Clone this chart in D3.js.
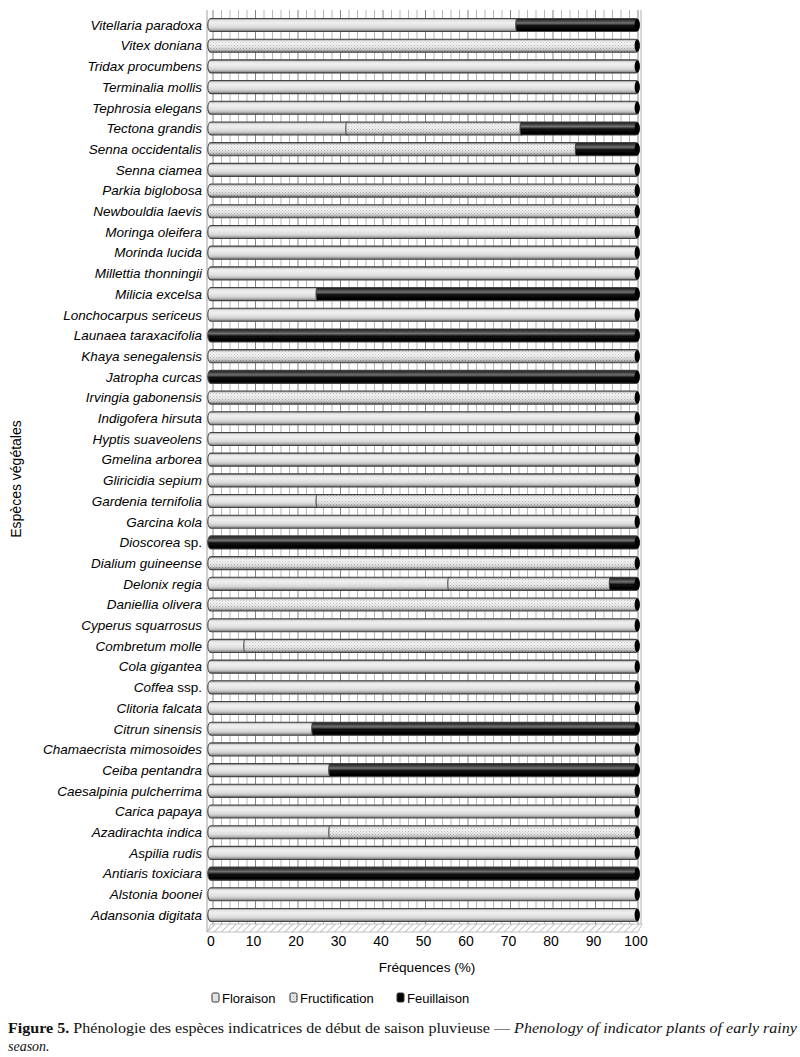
<!DOCTYPE html>
<html>
<head>
<meta charset="utf-8">
<script src="https://cdn.jsdelivr.net/npm/d3@7"></script>
<style>
  body { margin: 0; background: #fff; }
  svg { display: block; }
</style>
</head>
<body>
<div id="chart"></div>
<script>
// Species from top to bottom, as they appear on the chart
const species = [
  "Vitellaria paradoxa", "Vitex doniana", "Tridax procumbens", "Terminalia mollis",
  "Tephrosia elegans", "Tectona grandis", "Senna occidentalis", "Senna ciamea",
  "Parkia biglobosa", "Newbouldia laevis", "Moringa oleifera", "Morinda lucida",
  "Millettia thonningii", "Milicia excelsa", "Lonchocarpus sericeus", "Launaea taraxacifolia",
  "Khaya senegalensis", "Jatropha curcas", "Irvingia gabonensis", "Indigofera hirsuta",
  "Hyptis suaveolens", "Gmelina arborea", "Gliricidia sepium", "Gardenia ternifolia",
  "Garcina kola", "Dioscorea sp.", "Dialium guineense", "Delonix regia",
  "Daniellia olivera", "Cyperus squarrosus", "Combretum molle", "Cola gigantea",
  "Coffea ssp.", "Clitoria falcata", "Citrun sinensis", "Chamaecrista mimosoides",
  "Ceiba pentandra", "Caesalpinia pulcherrima", "Carica papaya", "Azadirachta indica",
  "Aspilia rudis", "Antiaris toxiciara", "Alstonia boonei", "Adansonia digitata"
];

const floraison = [
  72, 0, 100, 100, 100, 32, 0, 100, 0, 0, 100, 100, 100, 25, 100, 0,
  0, 0, 0, 100, 100, 100, 100, 25, 100, 0, 0, 56, 0, 100, 8, 100,
  100, 100, 24, 100, 28, 100, 100, 28, 100, 0, 100, 100
];
const fructification = [
  0, 100, 0, 0, 0, 41, 86, 0, 100, 100, 0, 0, 0, 0, 0, 0,
  100, 0, 100, 0, 0, 0, 0, 75, 0, 0, 100, 38, 100, 0, 92, 0,
  0, 0, 0, 0, 0, 0, 0, 72, 0, 0, 0, 0
];
const feuillaison = [
  28, 0, 0, 0, 0, 27, 14, 0, 0, 0, 0, 0, 0, 75, 0, 100,
  0, 100, 0, 0, 0, 0, 0, 0, 0, 100, 0, 6, 0, 0, 0, 0,
  0, 0, 76, 0, 72, 0, 0, 0, 0, 100, 0, 0
];

const seriesNames = ["Floraison", "Fructification", "Feuillaison"];
const xTicks = [0, 10, 20, 30, 40, 50, 60, 70, 80, 90, 100];

const W = 800, H = 1057;
const svg = d3.select("#chart").append("svg")
  .attr("width", W).attr("height", H)
  .style("font-family", "'Liberation Sans', Arial, sans-serif");

const defs = svg.append("defs");

// dotted texture for Fructification
const pat = defs.append("pattern").attr("id", "dots")
  .attr("width", 3).attr("height", 3).attr("patternUnits", "userSpaceOnUse");
pat.append("rect").attr("width", 3).attr("height", 3).attr("fill", "#ececec");
pat.append("rect").attr("x", 0).attr("y", 0).attr("width", 1).attr("height", 1).attr("fill", "#a8a8a8");
pat.append("rect").attr("x", 1.5).attr("y", 1.5).attr("width", 1).attr("height", 1).attr("fill", "#b4b4b4");

// diagonal hatching for the floor
const hatch = defs.append("pattern").attr("id", "hatch")
  .attr("width", 5).attr("height", 5).attr("patternUnits", "userSpaceOnUse")
  .attr("patternTransform", "rotate(45)");
hatch.append("rect").attr("width", 5).attr("height", 5).attr("fill", "#fff");
hatch.append("line").attr("x1", 0).attr("y1", 0).attr("x2", 0).attr("y2", 5)
  .attr("stroke", "#aaa").attr("stroke-width", 1.4);

// cylinder shading
const shade = defs.append("linearGradient").attr("id", "shade")
  .attr("x1", 0).attr("y1", 0).attr("x2", 0).attr("y2", 1);
[[0, "#000", 0.45], [0.18, "#fff", 0.25], [0.35, "#fff", 0.45], [0.55, "#fff", 0.05],
 [0.8, "#000", 0.14], [1, "#000", 0.5]].forEach(s => {
  shade.append("stop").attr("offset", s[0]).attr("stop-color", s[1]).attr("stop-opacity", s[2]);
});

const fills = { Floraison: "#e2e2e2", Fructification: "url(#dots)", Feuillaison: "#000" };

// scales
const x = d3.scaleLinear().domain([0, 100]).range([211, 636]);
const y = d3.scaleBand().domain(species).range([14.65, 925.35])
  .paddingInner(0.37).paddingOuter(0.185);
const bh = y.bandwidth();
const rx = 3.2;

const plotTop = 10, plotBottom = 924;

// back-wall grid
const grid = svg.append("g");
grid.selectAll("line.minor")
  .data(d3.range(0, 101, 2))
  .join("line")
  .attr("x1", d => x(d) + 2).attr("x2", d => x(d) + 2)
  .attr("y1", plotTop).attr("y2", plotBottom)
  .attr("stroke", d => d % 10 === 0 ? "#858585" : "#b8b8b8")
  .attr("stroke-width", 1);
// walls
grid.append("line").attr("x1", 207).attr("x2", 207).attr("y1", plotTop).attr("y2", 932)
  .attr("stroke", "#a0a0a0");
grid.append("line").attr("x1", 641).attr("x2", 641).attr("y1", plotTop).attr("y2", plotBottom)
  .attr("stroke", "#b0b0b0");

// floor
svg.append("path")
  .attr("d", `M${x(0) - 4},932 L${x(100) + 2},932 L${x(100) + 6},924 L${x(0)},924 Z`)
  .attr("fill", "url(#hatch)").attr("stroke", "#b0b0b0").attr("stroke-width", 0.8);

// stacked segments
const table = species.map((s, i) => ({
  name: s, Floraison: floraison[i], Fructification: fructification[i], Feuillaison: feuillaison[i]
}));
const stacked = d3.stack().keys(seriesNames)(table);

function segPath(x0, x1, yc, lrx) {
  const t = yc - bh / 2, b = yc + bh / 2;
  return `M${x0},${t} L${x1},${t} A${rx},${bh / 2} 0 0 1 ${x1},${b} L${x0},${b} A${lrx},${bh / 2} 0 0 1 ${x0},${t} Z`;
}

const bars = svg.append("g");
stacked.forEach(layer => {
  layer.forEach(d => {
    if (d[1] - d[0] <= 0) return;
    const yc = y(d.data.name) + bh / 2;
    const p = segPath(x(d[0]), x(d[1]), yc, d[0] > 0 ? 1.2 : rx);
    bars.append("path").attr("d", p).attr("fill", fills[layer.key]);
    bars.append("path").attr("d", p).attr("fill", "url(#shade)")
      .attr("stroke", "#444").attr("stroke-width", 1.1);
  });
});
// end caps (every bar ends with the dark top of the cylinder)
bars.selectAll("ellipse.cap")
  .data(species)
  .join("ellipse")
  .attr("cx", x(100) + 1.2).attr("cy", d => y(d) + bh / 2)
  .attr("rx", rx - 0.6).attr("ry", bh / 2 - 0.3)
  .attr("fill", "#000");

// y labels
const ylab = svg.append("g");
species.forEach(s => {
  const t = ylab.append("text")
    .attr("x", 202).attr("y", y(s) + bh / 2 + 4.8)
    .attr("text-anchor", "end")
    .attr("font-size", 13.5).attr("fill", "#000");
  const m = s.match(/^(.*?)( s?sp\.)$/);
  if (m) {
    t.append("tspan").attr("font-style", "italic").text(m[1]);
    t.append("tspan").text(m[2]);
  } else {
    t.attr("font-style", "italic").text(s);
  }
});

// x axis labels
svg.append("g").selectAll("text")
  .data(xTicks)
  .join("text")
  .attr("x", d => x(d)).attr("y", 946)
  .attr("text-anchor", "middle")
  .attr("font-size", 14).attr("fill", "#000")
  .text(d => d);

svg.append("text").attr("x", 427).attr("y", 972)
  .attr("text-anchor", "middle").attr("font-size", 13.6).attr("fill", "#000")
  .text("Fréquences (%)");

svg.append("text")
  .attr("transform", "translate(21,479) rotate(-90)")
  .attr("text-anchor", "middle").attr("font-size", 14).attr("fill", "#000")
  .text("Espèces végétales");

// legend
const legendX = [212, 290, 397];
const legend = svg.append("g");
seriesNames.forEach((k, i) => {
  const g = legend.append("g").attr("transform", `translate(${legendX[i]},993)`);
  g.append("rect").attr("width", 7).attr("height", 9).attr("rx", 1.5)
    .attr("fill", fills[k]).attr("stroke", "#333").attr("stroke-width", 1);
  g.append("text").attr("x", 10).attr("y", 9.5).attr("font-size", 13).attr("fill", "#000")
    .text(k);
});

// caption
const cap = svg.append("text").attr("x", 8).attr("y", 1033)
  .style("font-family", "'Liberation Serif', 'Times New Roman', serif")
  .attr("font-size", 14).attr("fill", "#111")
  .attr("textLength", 789).attr("lengthAdjust", "spacingAndGlyphs");
cap.append("tspan").attr("font-weight", "bold").text("Figure 5.");
cap.append("tspan").text(" Phénologie des espèces indicatrices de début de saison pluvieuse — ");
cap.append("tspan").attr("font-style", "italic").text("Phenology of indicator plants of early rainy");
svg.append("text").attr("x", 8).attr("y", 1051)
  .style("font-family", "'Liberation Serif', 'Times New Roman', serif")
  .attr("font-size", 14).attr("fill", "#111").attr("font-style", "italic")
  .text("season.");
</script>
</body>
</html>
